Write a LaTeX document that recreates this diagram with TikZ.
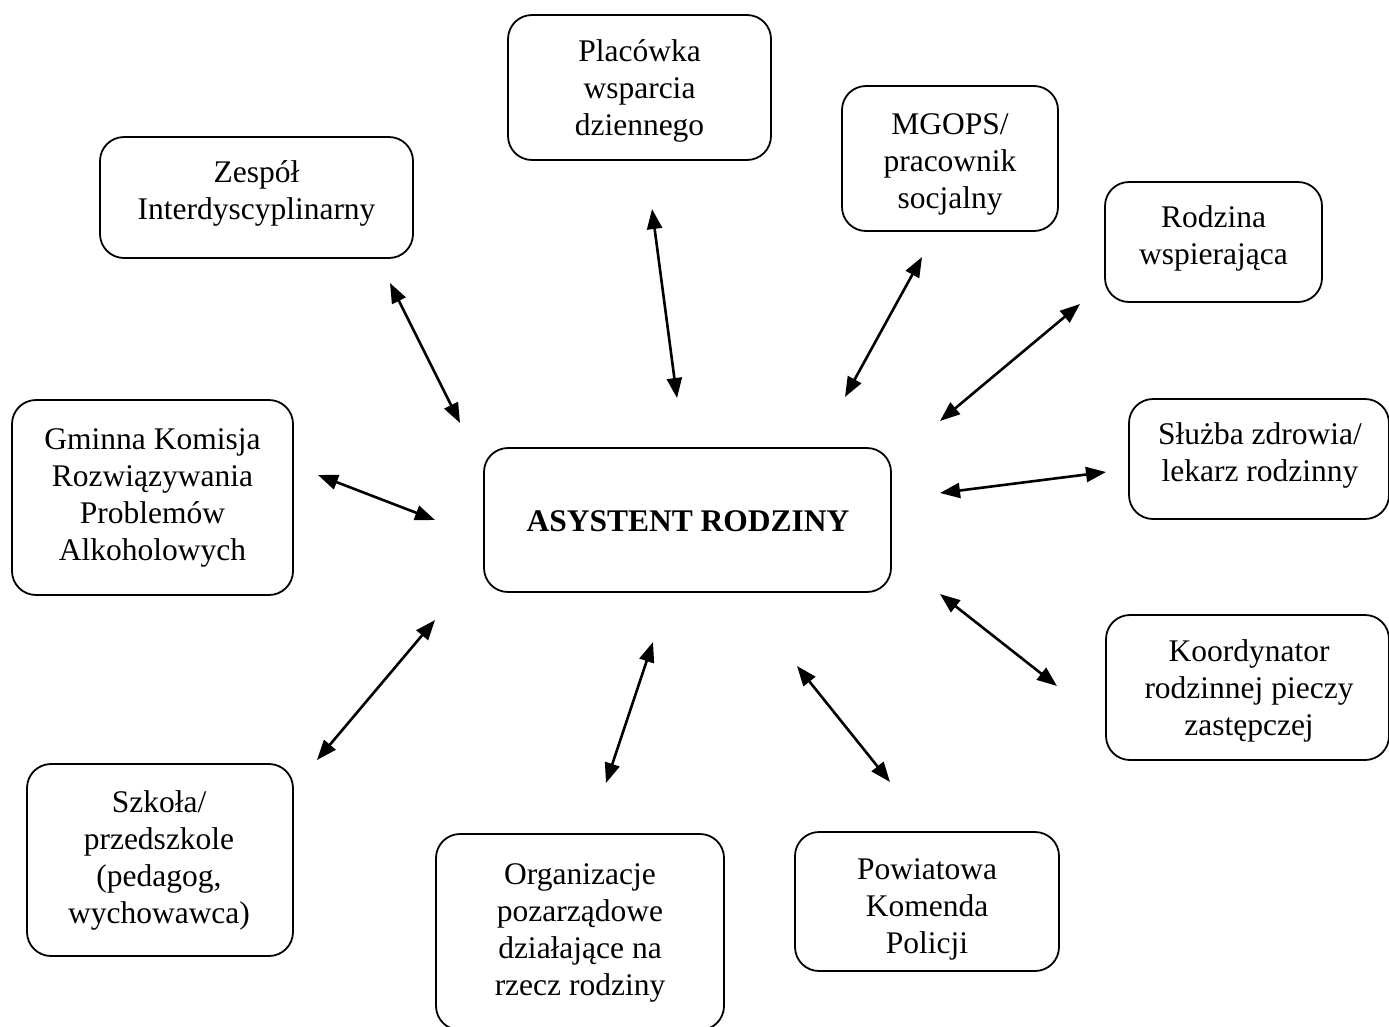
\documentclass[tikz,border=0pt]{standalone}
\usepackage{fontspec}
\setmainfont{Liberation Serif}
\usetikzlibrary{arrows.meta}
\tikzset{
  box/.style={draw=black, line width=1.8pt, rounded corners=24pt,
    inner sep=0pt, outer sep=0pt},
  txt/.style={align=center, inner sep=0pt, font=\fontsize{31.5}{37}\selectfont},
  link/.style={line width=2.6pt, {Triangle[length=20pt,width=15pt]}-{Triangle[length=20pt,width=15pt]}}
}
\begin{document}
\begin{tikzpicture}[x=1pt,y=-1pt]
\useasboundingbox[fill=white] (0,0) rectangle (1389,1026);
\node[box, minimum width=263pt, minimum height=145pt] (placowka) at (639.5,87.5) {};
\node[txt] (placowka-t) at (639.5,91) {Placówka\\wsparcia\\dziennego};
\node[box, minimum width=313pt, minimum height=121pt] (zespol) at (256.5,197.5) {};
\node[txt] (zespol-t) at (256.5,193.5) {Zespół\\Interdyscyplinarny};
\node[box, minimum width=216pt, minimum height=145pt] (mgops) at (950,158.5) {};
\node[txt] (mgops-t) at (950,164) {MGOPS/\\pracownik\\socjalny};
\node[box, minimum width=217pt, minimum height=120pt] (rodzina) at (1213.5,242) {};
\node[txt] (rodzina-t) at (1213.5,238) {Rodzina\\wspierająca};
\node[box, minimum width=281pt, minimum height=195pt] (gminna) at (152.5,497.5) {};
\node[txt] (gminna-t) at (152.5,497.5) {Gminna Komisja\\Rozwiązywania\\Problemów\\Alkoholowych};
\node[box, minimum width=407pt, minimum height=144pt] (asystent) at (687.5,520) {};
\node[txt, font=\fontsize{31.5}{37}\selectfont\bfseries] (asystent-t) at (688,521) {ASYSTENT RODZINY};
\node[box, minimum width=260pt, minimum height=120pt] (sluzba) at (1259,459) {};
\node[txt] (sluzba-t) at (1260,455) {Służba zdrowia/\\lekarz rodzinny};
\node[box, minimum width=283pt, minimum height=145pt] (koord) at (1247.5,687.5) {};
\node[txt] (koord-t) at (1249,691) {Koordynator\\rodzinnej pieczy\\zastępczej};
\node[box, minimum width=266pt, minimum height=192pt] (szkola) at (160,860) {};
\node[txt] (szkola-t) at (159,860.5) {Szkoła/\\przedszkole\\(pedagog,\\wychowawca)};
\node[box, minimum width=288pt, minimum height=196pt] (organ) at (580,932) {};
\node[txt] (organ-t) at (580,932.5) {Organizacje\\pozarządowe\\działające na\\rzecz rodziny};
\node[box, minimum width=264pt, minimum height=139pt] (powiat) at (927,901.5) {};
\node[txt] (powiat-t) at (927,909) {Powiatowa\\Komenda\\Policji};

\coordinate (a1) at (390,283);  \coordinate (b1) at (460,423);
\coordinate (a2) at (652,209);  \coordinate (b2) at (677,398);
\coordinate (a3) at (922,257);  \coordinate (b3) at (845,397);
\coordinate (a4) at (1080,304); \coordinate (b4) at (940,421);
\coordinate (a5) at (318,475);  \coordinate (b5) at (435,520);
\coordinate (a6) at (1106,472); \coordinate (b6) at (940,493);
\coordinate (a7) at (1057,686); \coordinate (b7) at (940,594);
\coordinate (a8) at (890,782);  \coordinate (b8) at (797,666);
\coordinate (a9) at (606,783);  \coordinate (b9) at (653,642);
\coordinate (a10) at (317,760); \coordinate (b10) at (435,620);

\foreach \i in {1,...,10} { \draw[link] (a\i) -- (b\i); }
\end{tikzpicture}
\end{document}
